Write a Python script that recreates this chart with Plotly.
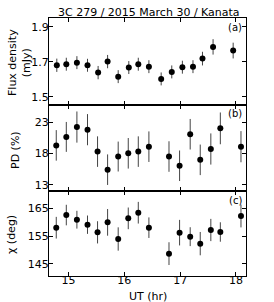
import plotly.graph_objects as go

W, H = 274, 302

# ---------------- data ----------------
ut_a = [14.79, 14.96, 15.15, 15.34, 15.53, 15.70, 15.89, 16.08, 16.25, 16.44,
        16.66, 16.85, 17.04, 17.23, 17.40, 17.59, 17.95]
flux = [1.681, 1.687, 1.696, 1.681, 1.639, 1.702, 1.616, 1.668, 1.687, 1.673,
        1.603, 1.643, 1.670, 1.673, 1.719, 1.786, 1.765]
flux_err = [0.038, 0.037, 0.037, 0.037, 0.038, 0.038, 0.037, 0.037, 0.037, 0.037,
            0.037, 0.037, 0.037, 0.037, 0.039, 0.044, 0.045]

ut_bc = [14.78, 14.96, 15.15, 15.34, 15.52, 15.70, 15.89, 16.07, 16.25, 16.44,
         16.80, 16.99, 17.18, 17.36, 17.55, 17.72, 18.09]
pd_val = [19.32, 20.68, 22.26, 21.84, 18.32, 15.42, 17.53, 18.05, 18.32, 19.11,
          17.53, 16.05, 21.11, 17.00, 18.74, 22.05, 19.11]
pd_err = [2.45, 2.4, 2.5, 2.5, 2.45, 2.45, 2.4, 2.45, 2.45, 2.45,
          2.45, 2.45, 2.45, 2.45, 2.5, 2.55, 2.5]
chi = [157.99, 162.54, 160.87, 159.07, 156.32, 159.91, 153.92, 161.35, 163.38, 157.99,
       148.65, 156.20, 154.76, 152.25, 157.16, 156.44, 162.19]
chi_err = [3.9, 3.7, 3.2, 3.3, 4.0, 4.8, 4.2, 3.9, 3.9, 3.7,
           4.1, 4.6, 3.4, 4.2, 4.0, 3.5, 4.1]

x_ticks = [15, 16, 17, 18]
ticks_a = [1.5, 1.7, 1.9]
ticks_b = [13, 18, 23]
ticks_c = [145, 155, 165]

title = "3C 279 / 2015 March 30 / Kanata"
ylab_a = "Flux density<br>(mJy)"
ylab_b = "PD (%)"
ylab_c = "χ (deg)"
xlab = "UT (hr)"
panel_labels = ["(a)", "(b)", "(c)"]

# ---------------- layout geometry (window pixels) ----------------
left, right = 49, 246
top_a, b_ab, b_bc, bottom = 18, 105, 191, 276


def px(x):
    return x / W


def py(y):
    return 1 - y / H


FONT = "DejaVu Sans"
err_style = dict(type="data", thickness=1, width=0, color="#444")
marker = dict(color="black", size=6)

fig = go.Figure()
fig.add_trace(go.Scatter(x=ut_a, y=flux, mode="markers", marker=marker,
                         error_y=dict(array=flux_err, **err_style),
                         xaxis="x3", yaxis="y3", showlegend=False))
fig.add_trace(go.Scatter(x=ut_bc, y=pd_val, mode="markers", marker=marker,
                         error_y=dict(array=pd_err, **err_style),
                         xaxis="x2", yaxis="y2", showlegend=False))
fig.add_trace(go.Scatter(x=ut_bc, y=chi, mode="markers", marker=marker,
                         error_y=dict(array=chi_err, **err_style),
                         xaxis="x", yaxis="y", showlegend=False))

xr = [14.65, 18.18]
common_ax = dict(showline=True, linecolor="black", linewidth=1, mirror="ticks",
                 ticks="inside", ticklen=4, tickwidth=1, tickcolor="black",
                 showgrid=False, zeroline=False, automargin=False,
                 tickfont=dict(family=FONT, size=11, color="black"))

xdom = [px(left), px(right)]
fig.update_layout(
    width=W, height=H,
    margin=dict(l=0, r=0, t=0, b=0),
    paper_bgcolor="white", plot_bgcolor="white",
    xaxis=dict(domain=xdom, range=xr, anchor="y", tickvals=x_ticks,
               ticklabelstandoff=-6, **common_ax),
    xaxis2=dict(domain=xdom, range=xr, anchor="y2", tickvals=x_ticks,
                showticklabels=False, **common_ax),
    xaxis3=dict(domain=xdom, range=xr, anchor="y3", tickvals=x_ticks,
                showticklabels=False, **common_ax),
    yaxis=dict(domain=[py(bottom), py(b_bc)], range=[140.6, 171.2], anchor="x",
               tickvals=ticks_c, ticklabelstandoff=-3, **common_ax),
    yaxis2=dict(domain=[py(b_bc), py(b_ab)], range=[12.0, 25.8], anchor="x2",
                tickvals=ticks_b, ticklabelstandoff=-3, **common_ax),
    yaxis3=dict(domain=[py(b_ab), py(top_a)], range=[1.454, 1.951], anchor="x3",
                tickvals=ticks_a, tickformat=".1f", ticklabelstandoff=-3, **common_ax),
)

ann = []


def add_text(text, x, y, size=11, angle=0, xanchor="center", yanchor="middle"):
    ann.append(dict(text=text, x=px(x), y=py(y), xref="paper", yref="paper",
                    showarrow=False, textangle=angle, xanchor=xanchor, yanchor=yanchor,
                    font=dict(family=FONT, size=size, color="black")))


add_text(title, 148.5, 12.5, size=11)
add_text(ylab_a, 19, 63, size=11, angle=-90)
add_text(ylab_b, 15, 150, size=11, angle=-90)
add_text(ylab_c, 11, 235, size=11, angle=-90)
add_text(xlab, 147.5, 296, size=11)
add_text(panel_labels[0], 244, 27, size=10, xanchor="right")
add_text(panel_labels[1], 244, 113, size=10, xanchor="right")
add_text(panel_labels[2], 244, 200, size=10, xanchor="right")
fig.update_layout(annotations=ann)

fig.write_html("out.html",
               config={"displayModeBar": False},
               post_script="document.body.style.margin='0';document.body.style.padding='0';")
